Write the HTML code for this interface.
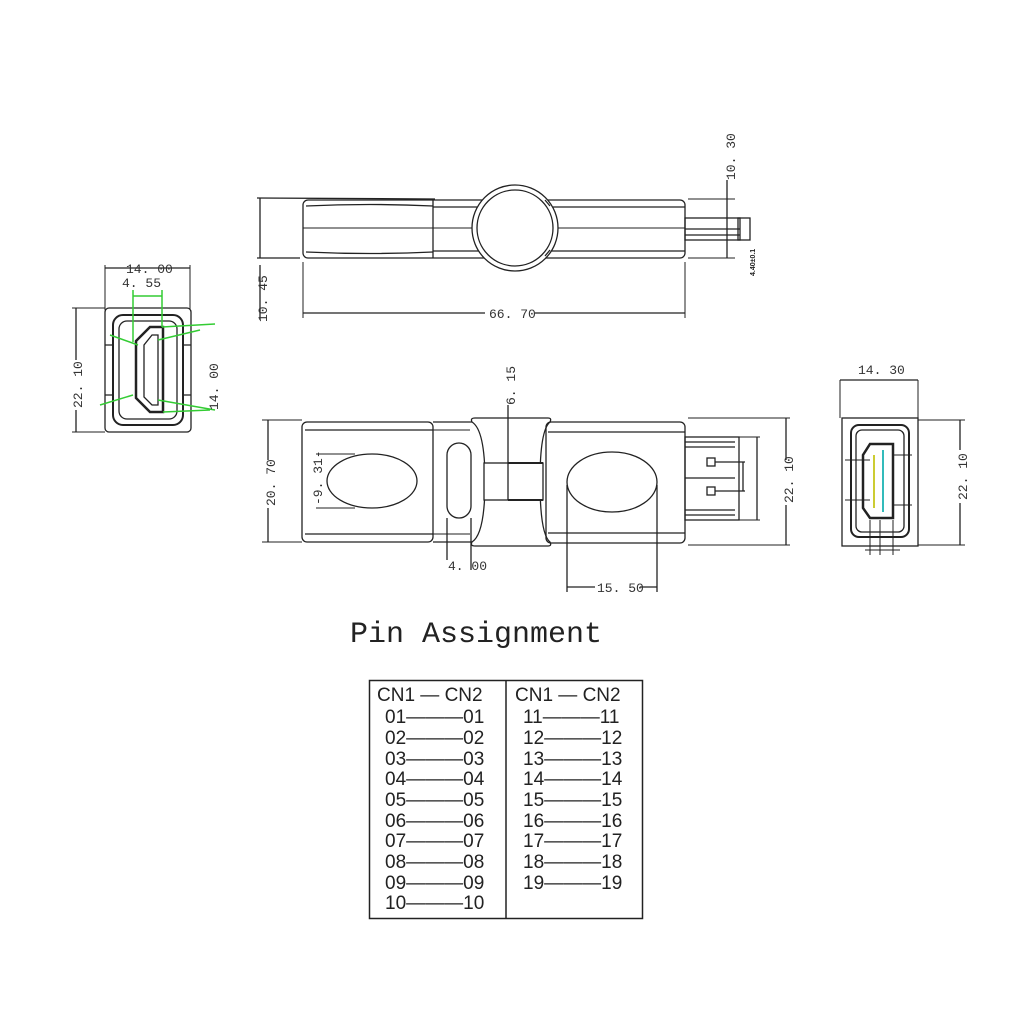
<!DOCTYPE html>
<html><head><meta charset="utf-8"><style>
html,body{margin:0;padding:0;background:#fff;}
svg{display:block;}
.d{font-family:"Liberation Mono",monospace;font-size:13px;fill:#333;}
.t{font-family:"Liberation Sans",sans-serif;font-size:19px;fill:#222;}
</style></head><body>
<svg width="1024" height="1024" viewBox="0 0 1024 1024" xmlns="http://www.w3.org/2000/svg" fill="none" stroke="#222" stroke-width="1.3">
<!-- TOP VIEW -->
<line x1="257" y1="198" x2="435" y2="199"/>
<line x1="257" y1="258" x2="300" y2="258"/>
<line x1="260" y1="198" x2="260" y2="258"/>
<line x1="260" y1="265" x2="260" y2="320"/>
<text class="d" transform="translate(267,322) rotate(-90)" stroke="none">10. 45</text>
<rect x="303" y="200" width="382" height="58" rx="5"/>
<line x1="433" y1="200" x2="433" y2="258"/>
<path d="M306 206 Q370 203 433 206 M306 252 Q370 255 433 252"/>
<path d="M433 207 H685 M433 251 H685"/>
<path d="M303 228 H472 M480 228 H490 M497 228 H545 M555 228 H685" stroke-width="1"/>
<circle cx="515" cy="228" r="43" fill="#fff"/>
<circle cx="515" cy="228" r="38"/>
<path d="M545 200 l5 6 M545 256 l5 -6"/>
<line x1="303" y1="262" x2="303" y2="318" stroke-width="1"/>
<line x1="685" y1="262" x2="685" y2="318" stroke-width="1"/>
<line x1="303" y1="313" x2="485" y2="313"/>
<line x1="535" y1="313" x2="685" y2="313"/>
<text class="d" x="489" y="318" stroke="none">66. 70</text>
<rect x="685" y="218" width="55" height="22"/>
<line x1="685" y1="229" x2="740" y2="229"/>
<line x1="685" y1="235" x2="740" y2="235"/>
<rect x="738" y="218" width="12" height="22"/>
<line x1="688" y1="199" x2="735" y2="199" stroke-width="1"/>
<line x1="688" y1="258" x2="735" y2="258" stroke-width="1"/>
<line x1="727" y1="180" x2="727" y2="258"/>
<text class="d" transform="translate(735,180) rotate(-90)" stroke="none">10. 30</text>
<text transform="translate(755,276) rotate(-90)" stroke="none" style="font-family:'Liberation Sans';font-size:7px;fill:#222;font-weight:bold">4.40±0.1</text>

<!-- LEFT END VIEW -->
<line x1="105" y1="265" x2="105" y2="310" stroke-width="1"/>
<line x1="190" y1="265" x2="190" y2="310" stroke-width="1"/>
<line x1="105" y1="268" x2="190" y2="268"/>
<text class="d" x="126" y="273" stroke="none">14. 00</text>
<text class="d" x="122" y="287" stroke="none">4. 55</text>
<line x1="72" y1="308" x2="105" y2="308" stroke-width="1"/>
<line x1="72" y1="432" x2="105" y2="432" stroke-width="1"/>
<line x1="76" y1="308" x2="76" y2="360"/>
<line x1="76" y1="410" x2="76" y2="432"/>
<text class="d" transform="translate(82,408) rotate(-90)" stroke="none">22. 10</text>
<rect x="105" y="308" width="86" height="124" rx="4"/>
<rect x="113" y="315" width="70" height="110" rx="10" stroke-width="2"/>
<rect x="119" y="321" width="58" height="98" rx="8"/>
<path d="M105 345 H113 M183 345 H191 M105 395 H113 M183 395 H191"/>
<path d="M150 327 H163 V412 H150 L136 398 V341 Z" stroke-width="2.5" fill="#fff"/>
<path d="M152 335 H158 V405 H152 L144 397 V345 Z"/>
<g stroke="#3c3" stroke-width="1.5">
<line x1="133" y1="290" x2="133" y2="342"/>
<line x1="162" y1="290" x2="162" y2="327"/>
<line x1="133" y1="296" x2="162" y2="296"/>
<line x1="162" y1="327" x2="215" y2="324"/>
<line x1="110" y1="335" x2="138" y2="345"/>
<line x1="158" y1="340" x2="200" y2="330"/>
<line x1="100" y1="405" x2="133" y2="395"/>
<line x1="158" y1="400" x2="215" y2="410"/>
<line x1="163" y1="412" x2="210" y2="410"/>
</g>
<text class="d" transform="translate(218,410) rotate(-90)" stroke="none">14. 00</text>

<!-- FRONT VIEW -->
<line x1="262" y1="420" x2="302" y2="420" stroke-width="1"/>
<line x1="262" y1="542" x2="302" y2="542" stroke-width="1"/>
<line x1="268" y1="420" x2="268" y2="460"/>
<line x1="268" y1="508" x2="268" y2="542"/>
<text class="d" transform="translate(275,506) rotate(-90)" stroke="none">20. 70</text>
<rect x="302" y="422" width="131" height="120" rx="5"/>
<path d="M305 430 H433 M305 534 H433"/>
<line x1="433" y1="422" x2="472" y2="422"/>
<line x1="433" y1="542" x2="472" y2="542"/>
<line x1="433" y1="430" x2="470" y2="430" stroke-width="1"/>
<line x1="433" y1="534" x2="470" y2="534" stroke-width="1"/>
<ellipse cx="372" cy="481" rx="45" ry="27"/>
<path d="M316 454 H355 M316 508 H355" stroke-width="1"/>
<text class="d" transform="translate(322,505) rotate(-90)" stroke="none">-9. 31-</text>
<rect x="447" y="443" width="24" height="75" rx="12"/>
<path d="M475 418 Q470 418 472 422 Q485 430 485 481 Q485 534 472 542 Q470 546 475 546 H548 Q552 546 550 542 Q540 534 540 481 Q540 430 550 422 Q552 418 548 418 Z"/>
<rect x="484" y="463" width="59" height="37" fill="#fff"/>
<line x1="508" y1="405" x2="508" y2="500"/>
<line x1="508" y1="463" x2="543" y2="463" stroke-width="2"/>
<line x1="508" y1="500" x2="543" y2="500" stroke-width="2"/>
<text class="d" transform="translate(515,405) rotate(-90)" stroke="none">6. 15</text>
<line x1="447" y1="518" x2="447" y2="560"/>
<line x1="471" y1="518" x2="471" y2="570"/>
<text class="d" x="448" y="570" stroke="none">4. 00</text>
<rect x="546" y="422" width="139" height="121" rx="5"/>
<path d="M548 432 H685 M548 533 H685"/>
<ellipse cx="612" cy="482" rx="45" ry="30"/>
<line x1="567" y1="485" x2="567" y2="592"/>
<line x1="657" y1="485" x2="657" y2="592"/>
<line x1="567" y1="587" x2="595" y2="587"/>
<line x1="640" y1="587" x2="657" y2="587"/>
<text class="d" x="597" y="592" stroke="none">15. 50</text>
<rect x="685" y="437" width="54" height="83"/>
<path d="M685 442 H735 M685 447 H735 M685 510 H735 M685 515 H735 M685 478 H735"/>
<rect x="707" y="458" width="8" height="8"/>
<rect x="707" y="487" width="8" height="8"/>
<path d="M715 462 H745 M715 491 H745 M743 462 V491"/>
<line x1="739" y1="437" x2="760" y2="437" stroke-width="1"/>
<line x1="739" y1="520" x2="760" y2="520" stroke-width="1"/>
<line x1="757" y1="437" x2="757" y2="520"/>
<line x1="688" y1="418" x2="790" y2="418" stroke-width="1"/>
<line x1="688" y1="545" x2="790" y2="545" stroke-width="1"/>
<line x1="786" y1="418" x2="786" y2="460"/>
<line x1="786" y1="505" x2="786" y2="545"/>
<text class="d" transform="translate(793,503) rotate(-90)" stroke="none">22. 10</text>

<!-- RIGHT END VIEW -->
<line x1="840" y1="380" x2="918" y2="380"/>
<line x1="840" y1="380" x2="840" y2="418" stroke-width="1"/>
<line x1="918" y1="380" x2="918" y2="430" stroke-width="1"/>
<text class="d" x="858" y="374" stroke="none">14. 30</text>
<rect x="842" y="418" width="76" height="128"/>
<rect x="851" y="425" width="58" height="112" rx="8" stroke-width="2"/>
<rect x="856" y="430" width="48" height="102" rx="6"/>
<path d="M870 444 H893 V518 H870 L863 508 V455 Z" stroke-width="2.5" fill="#fff"/>
<g stroke="#cc3" stroke-width="2"><line x1="874" y1="455" x2="874" y2="508"/></g>
<g stroke="#3bb" stroke-width="2"><line x1="883" y1="450" x2="883" y2="512"/></g>
<path d="M845 460 H870 M845 500 H870 M893 455 H912 M893 505 H912" stroke-width="1"/>
<path d="M870 520 V555 M880 520 V555 M893 520 V555 M865 550 H900" stroke-width="1"/>
<line x1="918" y1="420" x2="965" y2="420" stroke-width="1"/>
<line x1="918" y1="545" x2="965" y2="545" stroke-width="1"/>
<line x1="960" y1="420" x2="960" y2="450"/>
<line x1="960" y1="503" x2="960" y2="545"/>
<text class="d" transform="translate(967,500) rotate(-90)" stroke="none">22. 10</text>

<!-- PIN ASSIGNMENT -->
<text x="350" y="642" stroke="none" style="font-family:'Liberation Mono',monospace;font-size:30px;fill:#222">Pin Assignment</text>
<rect x="369.5" y="680.5" width="273" height="238" stroke-width="1.5"/>
<line x1="506" y1="680" x2="506" y2="918" stroke-width="1.5"/>
<g stroke="none">
<text class="t" x="377" y="701">CN1 — CN2</text>
<text class="t" x="515" y="701">CN1 — CN2</text>
<text class="t" x="385" y="723">01———01</text>
<text class="t" x="385" y="744">02———02</text>
<text class="t" x="385" y="765">03———03</text>
<text class="t" x="385" y="785">04———04</text>
<text class="t" x="385" y="806">05———05</text>
<text class="t" x="385" y="827">06———06</text>
<text class="t" x="385" y="847">07———07</text>
<text class="t" x="385" y="868">08———08</text>
<text class="t" x="385" y="889">09———09</text>
<text class="t" x="385" y="909">10———10</text>
<text class="t" x="523" y="723">11———11</text>
<text class="t" x="523" y="744">12———12</text>
<text class="t" x="523" y="765">13———13</text>
<text class="t" x="523" y="785">14———14</text>
<text class="t" x="523" y="806">15———15</text>
<text class="t" x="523" y="827">16———16</text>
<text class="t" x="523" y="847">17———17</text>
<text class="t" x="523" y="868">18———18</text>
<text class="t" x="523" y="889">19———19</text>
</g>
</svg>
</body></html>
